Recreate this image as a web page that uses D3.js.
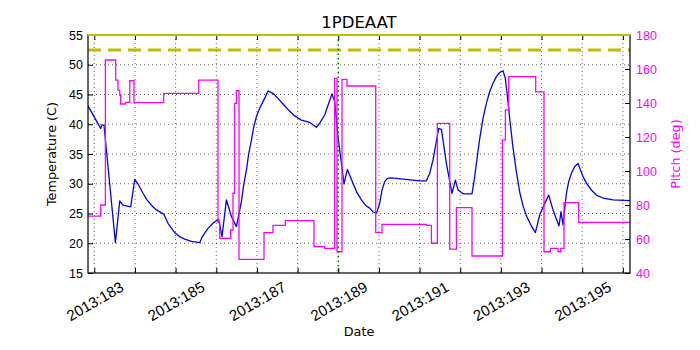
<!DOCTYPE html>
<html>
<head>
<meta charset="utf-8">
<script src="https://cdn.jsdelivr.net/npm/d3@7"></script>
<style>
  html, body { margin: 0; padding: 0; background: #fff; }
  svg { display: block; font-family: "DejaVu Sans", sans-serif; }
</style>
</head>
<body>
<svg id="chart" width="700" height="350"></svg>
<script>
// ---- data ----
const title = "1PDEAAT";
const xLabel = "Date";
const yLabelLeft = "Temperature (C)";
const yLabelRight = "Pitch (deg)";

const tempDays = [182.845,183.157,183.189,183.239,183.519,183.625,183.706,183.895,183.994,184.075,
  184.198,184.296,184.404,184.527,184.707,184.813,184.977,185.100,185.223,185.388,
  185.592,185.649,185.715,185.796,185.880,185.961,186.059,186.109,186.141,186.249,
  186.372,186.495,186.618,186.674,186.741,186.797,186.864,186.920,186.987,187.068,
  187.149,187.208,187.272,187.395,187.518,187.641,187.788,187.929,188.093,188.298,
  188.462,188.544,188.666,188.748,188.846,188.912,188.994,189.077,189.141,189.225,
  189.362,189.461,189.569,189.667,189.773,189.854,189.938,190.019,190.076,190.142,
  190.209,190.307,191.003,191.168,191.249,191.330,191.396,191.470,191.537,191.660,
  191.797,191.881,191.945,192.068,192.289,192.338,192.397,192.479,192.560,192.643,
  192.725,192.806,192.889,192.970,193.052,193.106,193.155,193.216,193.290,193.381,
  193.462,193.548,193.635,193.733,193.848,193.954,194.077,194.176,194.281,194.429,
  194.478,194.527,194.611,194.667,194.734,194.815,194.896,195.019,195.103,195.226,
  195.349,195.511,195.757,196.168];
const tempVals = [43.1,39.3,39.9,39.8,20.1,27.1,26.4,26.1,30.75,29.96,
  28.4,27.3,26.4,25.6,24.9,23.35,21.8,21.1,20.7,20.3,
  20.1,21.0,21.7,22.5,23.1,23.6,24.0,22.2,21.1,27.3,
  24.5,22.8,27.0,29.8,32.3,35.0,37.35,39.5,41.3,42.7,
  43.8,44.6,45.6,45.2,44.35,43.4,42.3,41.4,40.7,40.3,
  39.5,40.2,41.55,43.2,45.1,43.8,37.9,33.4,30.0,32.4,
  30.1,28.5,27.3,26.4,25.9,25.3,25.0,26.7,28.95,30.35,
  30.9,31.0,30.5,30.5,31.75,34.0,36.5,39.3,39.15,33.4,
  28.4,30.6,29.0,28.3,28.3,30.35,33.4,37.6,41.0,43.5,
  45.5,46.9,48.0,48.7,49.0,47.8,45.0,41.0,36.5,32.0,
  28.6,26.2,24.5,23.1,21.8,24.75,26.7,28.1,25.6,22.9,
  25.3,23.1,28.4,30.35,31.75,32.9,33.4,31.2,30.1,28.95,
  28.1,27.6,27.3,27.15];

const pitchDays = [182.845,183.157,183.273,183.526,183.583,183.625,183.649,183.765,183.871,183.976,
  184.707,185.568,186.042,186.084,186.355,186.411,186.453,186.495,186.559,187.174,
  187.395,187.700,188.403,188.666,188.912,188.969,189.092,189.215,189.921,190.076,
  191.168,191.291,191.438,191.741,191.906,192.289,193.037,193.111,193.192,193.856,
  194.060,194.217,194.404,194.471,194.552,194.913,196.168];
const pitchVals = [73.5,80.0,165.3,153.5,147.6,144.7,139.4,140.4,153.1,140.2,
  145.7,153.5,69.8,60.4,65.3,86.9,139.8,147.2,48.0,63.7,
  68.0,70.8,55.5,54.5,154.5,52.5,153.9,150.0,63.7,68.6,
  68.0,57.5,128.0,54.0,78.4,50.0,118.2,135.9,155.5,146.5,
  52.5,54.5,52.5,54.5,81.4,69.8,69.8];

const dayTicks = [183,184,185,186,187,188,189,190,191,192,193,194,195,196];
const dayLabels = [183,185,187,189,191,193,195];
const tempTicks = [15,20,25,30,35,40,45,50,55];
const pitchTicks = [40,60,80,100,120,140,160,180];
const planningLimit = 55;
const cautionLimit = 52.5;
const markerDay = 189;
const xDomain = [182.845, 196.175];
const tempDomain = [15, 55];
const pitchDomain = [40, 180];

// ---- layout ----
const FONT = '"DejaVu Sans", sans-serif';
const W = 700, H = 350;
const m = {left: 88, right: 70, top: 35, bottom: 77};
const pw = W - m.left - m.right, ph = H - m.top - m.bottom;

const svg = d3.select("#chart");
svg.append("rect").attr("width", W).attr("height", H).attr("fill", "#fff");
const g = svg.append("g").attr("transform", `translate(${m.left},${m.top})`);

const x = d3.scaleLinear().domain(xDomain).range([0, pw]);
const y = d3.scaleLinear().domain(tempDomain).range([ph, 0]);
const y2 = d3.scaleLinear().domain(pitchDomain).range([ph, 0]);

// grid
const grid = g.append("g").attr("stroke", "#000").attr("stroke-width", 0.6)
  .attr("stroke-dasharray", "1,3").attr("fill", "none");
grid.selectAll("line.v").data(dayTicks.filter(d => d !== markerDay)).join("line")
  .attr("x1", d => x(d)).attr("x2", d => x(d)).attr("y1", 0).attr("y2", ph);
grid.selectAll("line.h").data(tempTicks.slice(1, -1)).join("line")
  .attr("x1", 0).attr("x2", pw).attr("y1", d => y(d)).attr("y2", d => y(d));

// clip
svg.append("clipPath").attr("id", "clip").append("rect")
  .attr("x", 0).attr("y", -2).attr("width", pw).attr("height", ph + 4);
const plot = g.append("g").attr("clip-path", "url(#clip)");

// temperature line
const tempData = tempDays.map((d, i) => [d, tempVals[i]]);
plot.append("path").datum(tempData)
  .attr("fill", "none").attr("stroke", "#0000ff").attr("stroke-width", 1.3)
  .attr("stroke-linejoin", "round")
  .attr("d", d3.line().x(d => x(d[0])).y(d => y(d[1])));

// pitch step line
const pitchData = pitchDays.map((d, i) => [d, pitchVals[i]]);
plot.append("path").datum(pitchData)
  .attr("fill", "none").attr("stroke", "#ff00ff").attr("stroke-width", 1.3)
  .attr("d", d3.line().curve(d3.curveStepAfter).x(d => x(d[0])).y(d => y2(d[1])));

// caution limit line
plot.append("line")
  .attr("x1", 0).attr("x2", pw).attr("y1", y(cautionLimit)).attr("y2", y(cautionLimit))
  .attr("stroke", "#bfbf00").attr("stroke-width", 3).attr("stroke-dasharray", "13,7");

// marker vertical line
plot.append("line")
  .attr("x1", x(markerDay)).attr("x2", x(markerDay)).attr("y1", 0).attr("y2", ph)
  .attr("stroke", "#008000").attr("stroke-width", 1.6).attr("stroke-dasharray", "1.6,3");

// axes
const fs = 12.5;
const ax = g.append("g").attr("transform", `translate(0,${ph})`)
  .attr("font-family", FONT)
  .call(d3.axisBottom(x).tickValues(dayTicks).tickSize(-5).tickPadding(6)
    .tickFormat(d => dayLabels.includes(d) ? "2013:" + d : ""));
ax.selectAll("text").attr("font-size", 15).attr("fill", "#000")
  .attr("y", 0).attr("dy", null)
  .attr("dominant-baseline", "central").attr("text-anchor", "middle")
  .attr("transform", "translate(0,28) rotate(-30)");
ax.select(".domain").remove();

const axTop = g.append("g")
  .call(d3.axisTop(x).tickValues(dayTicks).tickSize(-5).tickFormat(""));
axTop.select(".domain").remove();

const ay = g.append("g").attr("font-family", FONT)
  .call(d3.axisLeft(y).tickValues(tempTicks).tickSize(-5).tickPadding(5).tickFormat(d3.format("d")));
ay.selectAll("text").attr("font-size", fs).attr("fill", "#000");
ay.select(".domain").remove();

const ay2 = g.append("g").attr("transform", `translate(${pw},0)`).attr("font-family", FONT)
  .call(d3.axisRight(y2).tickValues(pitchTicks).tickSize(-5).tickPadding(6).tickFormat(d3.format("d")));
ay2.selectAll("text").attr("font-size", fs).attr("fill", "#ff00ff");
ay2.select(".domain").remove();

// frame
g.append("rect").attr("x", 0).attr("y", 0).attr("width", pw).attr("height", ph)
  .attr("fill", "none").attr("stroke", "#000").attr("stroke-width", 1.2);

// planning limit (on top edge)
g.append("line")
  .attr("x1", 0).attr("x2", pw).attr("y1", y(planningLimit)).attr("y2", y(planningLimit))
  .attr("stroke", "#bfbf00").attr("stroke-width", 2);

// labels
svg.append("text").attr("x", m.left + pw / 2).attr("y", 28)
  .attr("text-anchor", "middle").attr("font-size", 16.5).text(title);
svg.append("text").attr("x", m.left + pw / 2).attr("y", 336)
  .attr("text-anchor", "middle").attr("font-size", 12.8).text(xLabel);
svg.append("text").attr("transform", `translate(56,${m.top + ph / 2}) rotate(-90)`)
  .attr("text-anchor", "middle").attr("font-size", 12.8).text(yLabelLeft);
svg.append("text").attr("transform", `translate(680,${m.top + ph / 2}) rotate(-90)`)
  .attr("text-anchor", "middle").attr("font-size", 12.8).attr("fill", "#ff00ff").text(yLabelRight);
</script>
</body>
</html>
